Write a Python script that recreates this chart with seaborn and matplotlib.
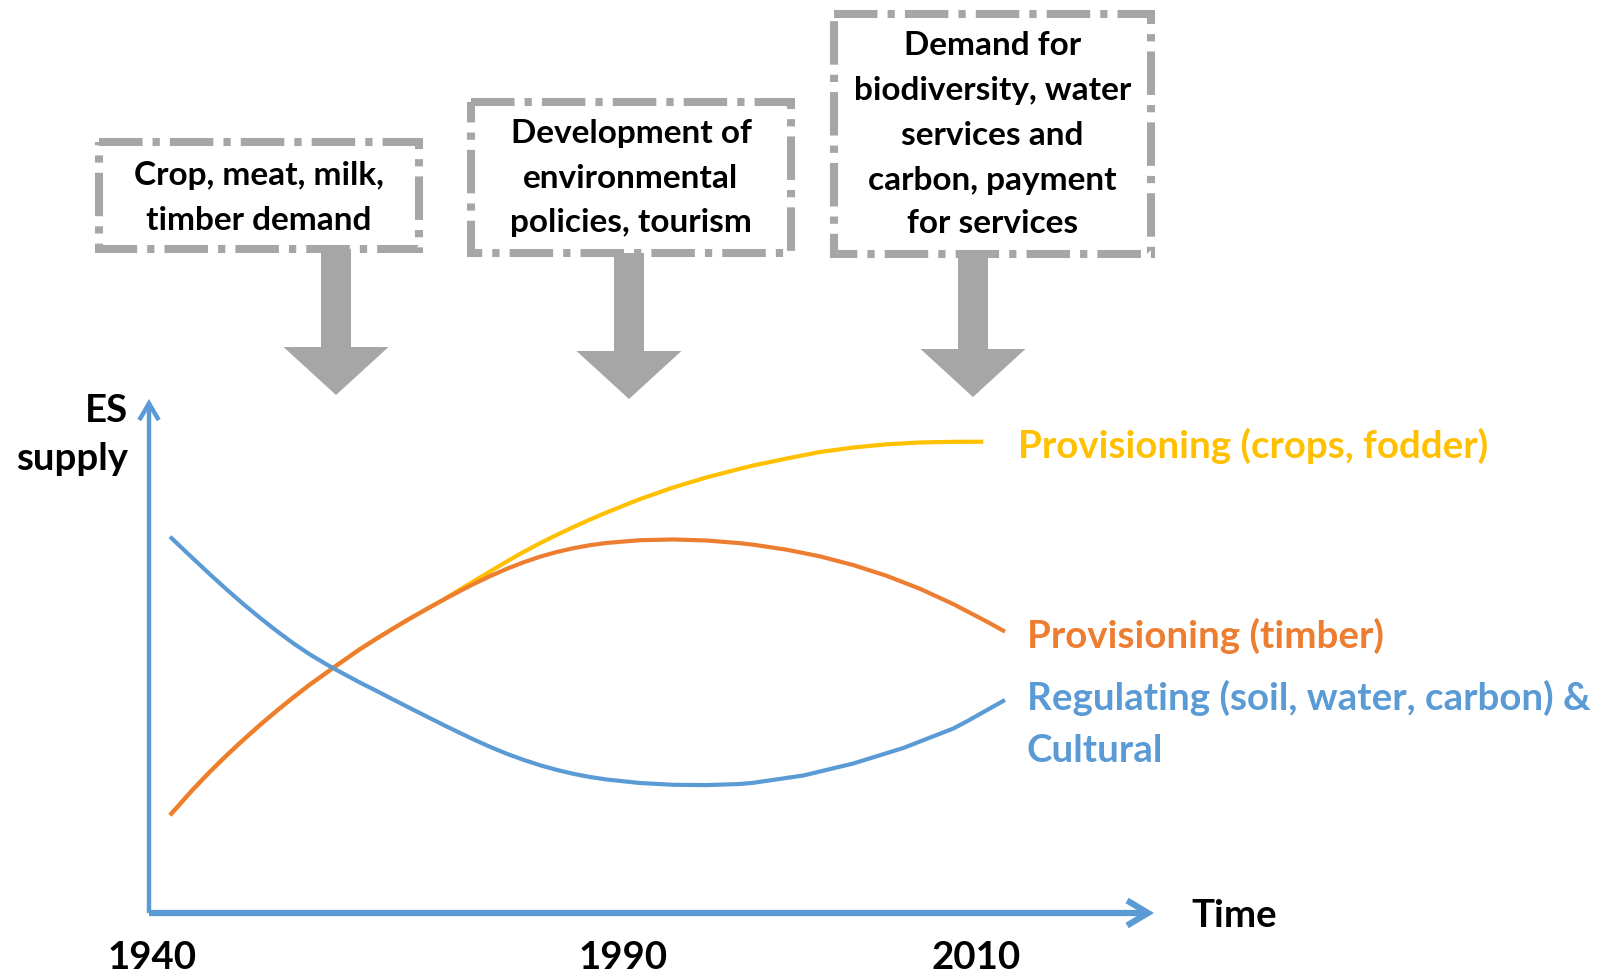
import matplotlib
matplotlib.use("Agg")
import matplotlib.pyplot as plt
from matplotlib.patches import Rectangle, FancyArrow, ArrowStyle
import pandas as pd
import seaborn as sns

# ---------------- data (schematic: time index 0-100 along the axis, ES supply 0-100) ----------------
crops_time = [2.09, 4.41, 6.07, 7.73, 9.38, 11.04, 12.71, 14.36, 16.02, 18.66,
              20.98, 22.66, 24.31, 25.97, 27.63, 29.28, 30.95, 32.27, 33.93, 35.59,
              37.24, 38.91, 40.57, 42.22, 43.88, 45.54, 48.86, 52.17, 55.49, 58.81,
              60.13, 63.45, 66.77, 70.08, 73.40, 76.72, 80.03, 83.01]
crops_supply = [19.03, 24.11, 27.49, 30.68, 33.68, 36.58, 39.34, 41.95, 44.46, 48.15,
                51.32, 53.40, 55.37, 57.30, 59.14, 60.95, 62.94, 64.49, 66.44, 68.37,
                70.21, 71.95, 73.56, 75.08, 76.54, 77.94, 80.53, 82.80, 84.75, 86.44,
                87.06, 88.42, 89.69, 90.56, 91.19, 91.54, 91.67, 91.69]

timber_time = [2.09, 4.41, 6.07, 7.73, 9.38, 11.04, 12.71, 14.36, 16.02, 18.66,
               20.98, 22.66, 24.31, 25.97, 27.63, 29.28, 30.95, 32.27, 33.93, 35.59,
               37.24, 38.91, 40.57, 42.22, 43.88, 45.54, 48.86, 52.17, 55.49, 58.81,
               60.13, 63.45, 66.77, 70.08, 73.40, 76.72, 80.03, 83.35, 85.17]
timber_supply = [19.03, 24.11, 27.49, 30.68, 33.68, 36.58, 39.34, 41.95, 44.46, 48.15,
                 51.32, 53.40, 55.37, 57.30, 59.14, 60.91, 62.65, 63.97, 65.53, 66.95,
                 68.21, 69.32, 70.23, 70.97, 71.56, 72.00, 72.53, 72.67, 72.47, 71.95,
                 71.65, 70.68, 69.38, 67.69, 65.60, 63.07, 60.10, 56.71, 54.75]

regulating_time = [2.09, 4.41, 6.07, 7.73, 9.38, 11.04, 12.71, 14.36, 16.02, 17.68,
                   18.66, 20.98, 22.66, 24.31, 25.97, 27.63, 29.28, 30.62, 32.27, 33.93,
                   35.59, 37.24, 38.91, 40.57, 42.22, 43.88, 45.54, 48.86, 52.17, 55.49,
                   58.81, 60.13, 65.10, 70.08, 75.05, 80.03, 81.36, 85.17]
regulating_supply = [73.21, 68.91, 65.88, 62.94, 60.12, 57.43, 54.86, 52.47, 50.29, 48.35,
                     47.28, 44.84, 43.19, 41.52, 39.86, 38.23, 36.61, 35.33, 33.79, 32.33,
                     30.99, 29.81, 28.75, 27.84, 27.08, 26.46, 25.97, 25.29, 24.94, 24.88,
                     25.10, 25.33, 26.75, 29.09, 32.10, 35.89, 37.26, 41.44]

year_labels = ["1940", "1990", "2010"]
year_positions = [0.3, 47.2, 82.3]

series_names = ["Provisioning (crops, fodder)", "Provisioning (timber)",
                "Regulating (soil, water, carbon) &\nCultural"]

driver_texts = [
    ["Crop, meat, milk,", "timber demand"],
    ["Development of", "environmental", "policies, tourism"],
    ["Demand for", "biodiversity, water", "services and", "carbon, payment", "for services"],
]

# ---------------- styling ----------------
C_CROPS = "#FFC000"
C_TIMBER = "#ED7D31"
C_REG = "#5B9BD5"
C_GREY = "#A6A6A6"

sns.set_theme(style="white")
plt.rcParams["font.family"] = ["Lato", "DejaVu Sans"]

W, H, DPI = 1613, 977, 100
fig = plt.figure(figsize=(W / DPI, H / DPI), dpi=DPI)
fig.patch.set_facecolor("white")

# main axes: origin at pixel (149, 913), x arrow to 1154, y arrow to 399
x0, y0, x1, y1 = 149, 913, 1154, 399
ax = fig.add_axes([x0 / W, 1 - y0 / H, (x1 - x0) / W, (y0 - y1) / H])
ax.set_xlim(0, 100)
ax.set_ylim(0, 100)
for s in ax.spines.values():
    s.set_visible(False)
ax.set_facecolor("none")
ax.grid(False)

df_crops = pd.DataFrame({"time": crops_time, "supply": crops_supply})
df_timber = pd.DataFrame({"time": timber_time, "supply": timber_supply})
df_reg = pd.DataFrame({"time": regulating_time, "supply": regulating_supply})

line_kw = dict(x="time", y="supply", ax=ax, linewidth=3.0, sort=False, estimator=None,
               legend=False, solid_capstyle="butt", solid_joinstyle="round")
sns.lineplot(data=df_crops, color=C_CROPS, zorder=3, **line_kw)
sns.lineplot(data=df_timber, color=C_TIMBER, zorder=4, **line_kw)
sns.lineplot(data=df_reg, color=C_REG, zorder=5, **line_kw)
ax.set_xlabel("")
ax.set_ylabel("")

# axis arrows
ax.annotate("", xy=(1, 0), xytext=(0, 0), xycoords="axes fraction", textcoords="axes fraction",
            annotation_clip=False,
            arrowprops=dict(arrowstyle=ArrowStyle("->", head_length=0.75, head_width=0.45),
                            mutation_scale=20, color=C_REG, lw=4.5, shrinkA=0, shrinkB=0,
                            capstyle="butt", joinstyle="miter"))
ax.annotate("", xy=(0, 1), xytext=(0, 0), xycoords="axes fraction", textcoords="axes fraction",
            annotation_clip=False,
            arrowprops=dict(arrowstyle=ArrowStyle("->", head_length=0.6, head_width=0.35),
                            mutation_scale=20, color=C_REG, lw=3.2, shrinkA=0, shrinkB=0,
                            capstyle="butt", joinstyle="miter"))

renderer = fig.canvas.get_renderer()


def fitted_size(sample, target_px, weight="normal"):
    t = fig.text(0, 0, sample, fontsize=20, fontweight=weight)
    w = t.get_window_extent(renderer).width
    t.remove()
    return 20 * target_px / w


LAB_W = "bold"
BLACK_W = "bold"
big = fitted_size("Provisioning (crops, fodder)", 470, LAB_W)
axis_fs = fitted_size("supply", 112, BLACK_W)
box_fs = fitted_size("biodiversity, water", 278, BLACK_W)

# tick labels
ax.set_xticks(year_positions)
ax.set_xticklabels(year_labels, fontweight=BLACK_W)
ax.set_yticks([])
ax.tick_params(axis="x", length=0, pad=axis_fs * 0.72, labelsize=axis_fs, labelcolor="black")

# axis labels
ax.text(-0.0213, (y0 - 422) / (y0 - y1), "ES", transform=ax.transAxes, ha="right",
        va="baseline", fontsize=axis_fs, fontweight=BLACK_W, color="black")
ax.text(-0.0213, (y0 - 470) / (y0 - y1), "supply", transform=ax.transAxes, ha="right",
        va="baseline", fontsize=axis_fs, fontweight=BLACK_W, color="black")
ax.text((1191 - x0) / (x1 - x0), (y0 - 927) / (y0 - y1), "Time", transform=ax.transAxes,
        ha="left", va="baseline", fontsize=axis_fs, fontweight=BLACK_W, color="black")

# series labels
lab_x = [(1018 - x0) / (x1 - x0), (1026.7 - x0) / (x1 - x0), (1026.7 - x0) / (x1 - x0)]
lab_base = [[458.3], [648.3], [710, 761.7]]
lab_col = [C_CROPS, C_TIMBER, C_REG]
for name, lx, bases, col in zip(series_names, lab_x, lab_base, lab_col):
    for line, by in zip(name.split("\n"), bases):
        ax.text(lx, (y0 - by) / (y0 - y1), line, transform=ax.transAxes, ha="left",
                va="baseline", fontsize=big, fontweight=LAB_W, color=col)

# ---------------- driver boxes and block arrows (pixel overlay) ----------------
ov = fig.add_axes([0, 0, 1, 1])
ov.set_xlim(0, W)
ov.set_ylim(H, 0)
ov.axis("off")
ov.set_facecolor("none")

boxes = [(99, 142, 419, 249), (471, 102, 791, 253), (834, 14, 1151, 254)]
baselines = [[185, 230], [143.3, 188.3, 231.7], [55, 100, 145, 190, 233.3]]
arrow_cx = [336, 629, 973]
arrow_tip = [395, 399, 397]

for (bx0, by0, bx1, by1), lines, bases, cx, tip in zip(boxes, driver_texts, baselines,
                                                       arrow_cx, arrow_tip):
    ov.add_patch(Rectangle((bx0, by0), bx1 - bx0, by1 - by0, fill=False, edgecolor=C_GREY,
                           linewidth=5.8, linestyle=(0, (5.4, 1.25, 0.9, 1.25)),
                           joinstyle="miter"))
    tcx = (bx0 + bx1) / 2
    for line, by in zip(lines, bases):
        ov.text(tcx, by, line, ha="center", va="baseline", fontsize=box_fs,
                fontweight=BLACK_W, color="black")
    ov.add_patch(FancyArrow(cx, by1, 0, tip - by1, width=30, head_width=105,
                            head_length=48, length_includes_head=True,
                            color=C_GREY, linewidth=0))

fig.savefig("out.png", dpi=DPI, facecolor="white")
